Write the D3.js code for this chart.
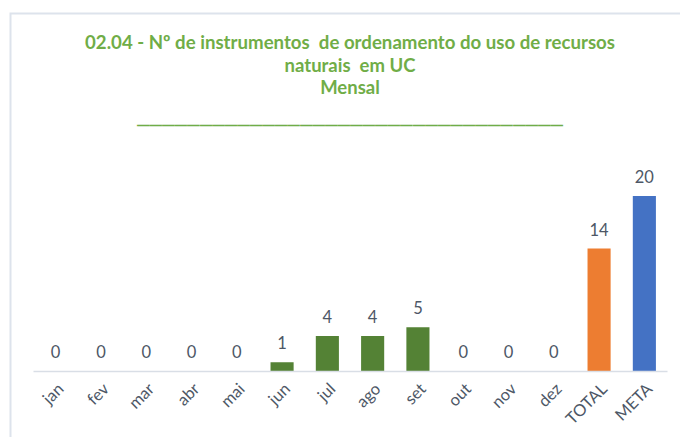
<!DOCTYPE html>
<html>
<head>
<meta charset="utf-8">
<script src="https://cdn.jsdelivr.net/npm/d3@7"></script>
<style>
  body { margin: 0; background: #fff; }
  svg { display: block; font-family: Lato, 'Open Sans', sans-serif; }
</style>
</head>
<body>
<svg id="chart" width="680" height="437"></svg>
<script>
// Data
const categories = ['jan', 'fev', 'mar', 'abr', 'mai', 'jun', 'jul', 'ago', 'set', 'out', 'nov', 'dez', 'TOTAL', 'META'];
const values = [0, 0, 0, 0, 0, 1, 4, 4, 5, 0, 0, 0, 14, 20];
const titleLines = [
  '02.04 - Nº de instrumentos  de ordenamento do uso de recursos',
  'naturais  em UC',
  'Mensal',
];

const WIDTH = 680;
const HEIGHT = 437;
const BASELINE = 371;
const colorFor = cat => (cat === 'TOTAL' ? '#ed7d31' : cat === 'META' ? '#4472c4' : '#548235');

const svg = d3.select('#chart');

// Frame border (chart area edge)
svg.append('path')
  .attr('d', `M10.5,${HEIGHT} V13.5 H${WIDTH}`)
  .attr('fill', 'none')
  .attr('stroke', '#dde3ec')
  .attr('stroke-width', 2);

// Title
const title = svg.append('text')
  .attr('text-anchor', 'middle')
  .attr('fill', '#70ad47')
  .attr('font-weight', 'bold')
  .attr('font-size', 18.5);
titleLines.forEach((line, i) => {
  title.append('tspan')
    .attr('x', 350)
    .attr('y', 49 + i * 22.5)
    .attr('xml:space', 'preserve')
    .text(line);
});
title.select('tspan').attr('textLength', 530).attr('lengthAdjust', 'spacingAndGlyphs');
svg.append('text')
  .attr('x', 137)
  .attr('y', 123)
  .attr('fill', '#70ad47')
  .attr('font-family', 'DejaVu Sans, sans-serif')
  .attr('font-weight', 'bold')
  .attr('font-size', 16)
  .attr('textLength', 426)
  .attr('lengthAdjust', 'spacingAndGlyphs')
  .text('_'.repeat(34));

// Scales
const xScale = d3.scaleBand()
  .domain(categories)
  .range([33, 667])
  .paddingInner(0.49)
  .paddingOuter(0.245);
const yScale = d3.scaleLinear()
  .domain([0, 20])
  .range([BASELINE, 196]);

// Bars
svg.append('g')
  .selectAll('rect')
  .data(categories)
  .join('rect')
  .attr('x', d => xScale(d))
  .attr('y', (d, i) => yScale(values[i]))
  .attr('width', xScale.bandwidth())
  .attr('height', (d, i) => BASELINE - yScale(values[i]))
  .attr('fill', d => colorFor(d));

// Axis
const xAxis = d3.axisBottom(xScale).tickSize(0).tickPadding(10);
const axisG = svg.append('g')
  .attr('transform', `translate(0,${BASELINE})`)
  .call(xAxis);
axisG.select('.domain').attr('stroke', '#d9dee6').attr('stroke-width', 1.5);
axisG.selectAll('text')
  .attr('font-size', 16.5)
  .attr('font-family', 'Lato, sans-serif')
  .attr('fill', '#4d5766')
  .attr('text-anchor', 'end')
  .attr('dy', '0.35em')
  .attr('transform', 'translate(5,15) rotate(-45)')
  .attr('y', 0);

// Value labels
svg.append('g')
  .selectAll('text')
  .data(categories)
  .join('text')
  .attr('x', d => xScale(d) + xScale.bandwidth() / 2)
  .attr('y', (d, i) => yScale(values[i]) - 13)
  .attr('text-anchor', 'middle')
  .attr('font-size', 16.5)
  .attr('fill', '#4d5766')
  .text((d, i) => values[i]);
</script>
</body>
</html>
